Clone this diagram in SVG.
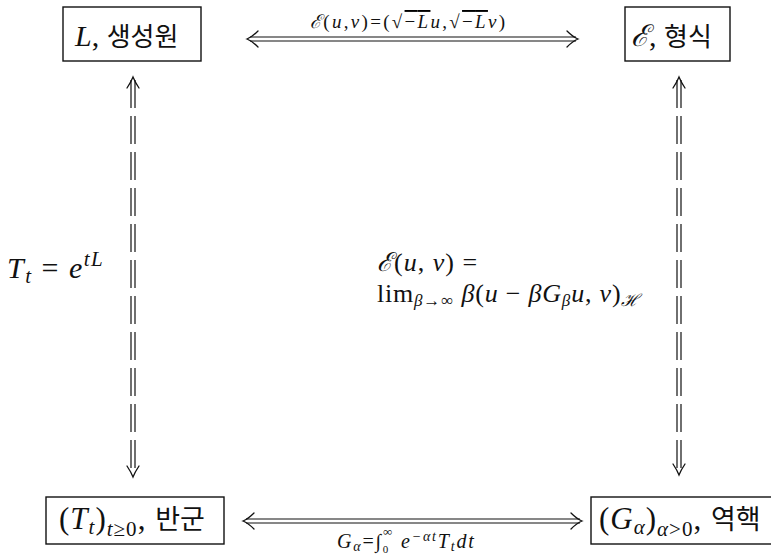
<svg xmlns="http://www.w3.org/2000/svg" width="771" height="557" viewBox="0 0 771 557">
<style>
.box{fill:none;stroke:#111;stroke-width:1.4}
.m{font-family:"Liberation Serif","DejaVu Serif",serif;font-style:italic;fill:#111}
.r{font-family:"Liberation Serif","DejaVu Serif",serif;font-style:normal;fill:#111}
.k{font-family:"Noto Sans CJK KR",sans-serif;fill:#111}
.ln{fill:none;stroke:#111;stroke-width:1.2}
.dl{fill:none;stroke:#111;stroke-width:1.2;stroke-dasharray:28 8}
.hd{fill:none;stroke:#111;stroke-width:1.3;stroke-linecap:round}
.ov{text-decoration:overline}
</style>
<rect width="771" height="557" fill="#fff"/>
<g id="node-L">
<rect class="box" x="63" y="7" width="138" height="54"/>
<text x="75" y="46" font-size="30"><tspan class="m">L</tspan><tspan class="r">, </tspan><tspan class="k" font-size="26">생성원</tspan></text>
</g>
<g id="node-E">
<rect class="box" x="625" y="7" width="105" height="54"/>
<text x="631" y="46" font-size="30"><tspan class="m">ℰ</tspan><tspan class="r">, </tspan><tspan class="k" font-size="26">형식</tspan></text>
</g>
<g id="node-T">
<rect class="box" x="46" y="497" width="178" height="47"/>
<text x="59" y="529" font-size="31" letter-spacing="1"><tspan class="r">(</tspan><tspan class="m">T</tspan><tspan class="m" font-size="21" dy="5">t</tspan><tspan class="r" dy="-5">)</tspan><tspan class="m" font-size="21" dy="7">t</tspan><tspan class="r" font-size="21">≥0</tspan><tspan class="r" dy="-7">, </tspan><tspan class="k" font-size="27" letter-spacing="0">반군</tspan></text>
</g>
<g id="node-G">
<rect class="box" x="591" y="497" width="190" height="47"/>
<text x="599" y="529" font-size="31" letter-spacing="1"><tspan class="r">(</tspan><tspan class="m">G</tspan><tspan class="m" font-size="21" dy="5">α</tspan><tspan class="r" dy="-5">)</tspan><tspan class="m" font-size="21" dy="7">α</tspan><tspan class="r" font-size="21">&gt;0</tspan><tspan class="r" dy="-7">, </tspan><tspan class="k" font-size="27" letter-spacing="0">역핵</tspan></text>
</g>
<g id="connectors">
<line class="ln" x1="250" y1="37" x2="576" y2="37"/>
<line class="ln" x1="250" y1="41" x2="576" y2="41"/>
<path class="hd" d="M258,31 Q252,37 247,39 Q252,41 258,47"/>
<path class="hd" d="M567,31 Q573,37 578,39 Q573,41 567,47"/>
<line class="ln" x1="246" y1="519" x2="580" y2="519"/>
<line class="ln" x1="246" y1="523" x2="580" y2="523"/>
<path class="hd" d="M254,513 Q248,519 243,521 Q248,523 254,529"/>
<path class="hd" d="M571,513 Q577,519 582,521 Q577,523 571,529"/>
<line class="dl" x1="131" y1="80" x2="131" y2="474"/>
<line class="dl" x1="135" y1="80" x2="135" y2="474"/>
<path class="hd" d="M127,88 Q131,82 133,77 Q135,82 139,88"/>
<path class="hd" d="M127,466 Q131,472 133,477 Q135,472 139,466"/>
<line class="dl" x1="677" y1="80" x2="677" y2="472"/>
<line class="dl" x1="681" y1="80" x2="681" y2="472"/>
<path class="hd" d="M673,88 Q677,82 679,77 Q681,82 685,88"/>
<path class="hd" d="M673,464 Q677,470 679,475 Q681,470 685,464"/>
</g>
<g id="labels">
<text x="310" y="28" font-size="19" letter-spacing="2.3"><tspan class="m">ℰ</tspan><tspan class="r">(</tspan><tspan class="m">u</tspan><tspan class="r">,</tspan><tspan class="m">v</tspan><tspan class="r">)=(√</tspan><tspan class="ov"><tspan class="r">−</tspan><tspan class="m">L</tspan></tspan><tspan class="m">u</tspan><tspan class="r">,√</tspan><tspan class="ov"><tspan class="r">−</tspan><tspan class="m">L</tspan></tspan><tspan class="m">v</tspan><tspan class="r">)</tspan></text>
<text x="337" y="548" font-size="20" letter-spacing="1.8"><tspan class="m">G</tspan><tspan class="m" font-size="14" dy="3">α</tspan><tspan class="r" dy="-3">=∫</tspan><tspan class="r" font-size="11" dy="5">0</tspan><tspan class="r" font-size="13" dy="-17" dx="-7">∞</tspan><tspan class="m" dy="12"> e</tspan><tspan class="m" font-size="14" dy="-7">−αt</tspan><tspan class="m" dy="7">T</tspan><tspan class="m" font-size="14" dy="3">t</tspan><tspan class="m" dy="-3">dt</tspan></text>
<text x="7" y="278" font-size="30" letter-spacing="1.5"><tspan class="m">T</tspan><tspan class="m" font-size="21" dy="5">t</tspan><tspan class="r" dy="-5"> = </tspan><tspan class="m">e</tspan><tspan class="m" font-size="21" dy="-12">tL</tspan></text>
<text x="377" y="271" font-size="26" letter-spacing="1"><tspan class="m">ℰ</tspan><tspan class="r">(</tspan><tspan class="m">u</tspan><tspan class="r">, </tspan><tspan class="m">v</tspan><tspan class="r">) =</tspan></text>
<text x="377" y="302" font-size="26" letter-spacing="0.8"><tspan class="r">lim</tspan><tspan class="m" font-size="17" dy="4">β</tspan><tspan class="r" font-size="17">→∞</tspan><tspan class="m" dy="-4"> β</tspan><tspan class="r">(</tspan><tspan class="m">u</tspan><tspan class="r"> − </tspan><tspan class="m">βG</tspan><tspan class="m" font-size="17" dy="4">β</tspan><tspan class="m" dy="-4">u</tspan><tspan class="r">, </tspan><tspan class="m">v</tspan><tspan class="r">)</tspan><tspan class="m" font-size="17" dy="4">ℋ</tspan></text>
</g>
</svg>
